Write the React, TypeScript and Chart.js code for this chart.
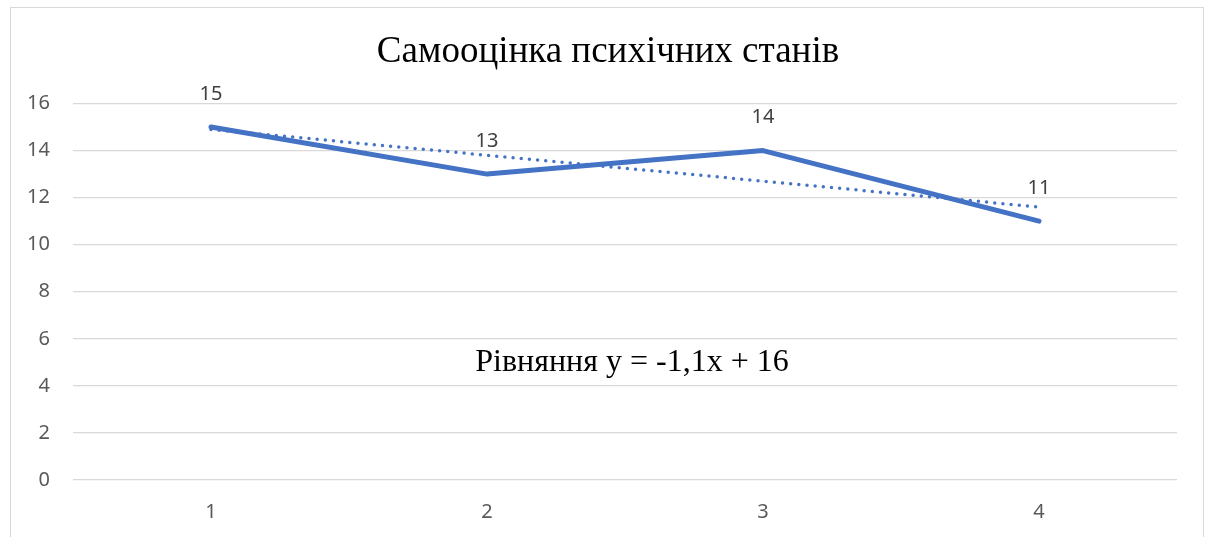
import React, { useEffect, useRef } from "react";
import { Chart, registerables } from "chart.js";

Chart.register(...registerables);

const categories = ["1", "2", "3", "4"];
const seriesValues = [15, 13, 14, 11];
const trendValues = [14.9, 13.8, 12.7, 11.6];
const yTicks = [0, 2, 4, 6, 8, 10, 12, 14, 16];
const titleText = "Самооцінка психічних станів";
const equationText = "Рівняння y = -1,1x + 16";

const W = 1205;
const H = 537;
const SANS = "'Noto Sans', 'Open Sans', sans-serif";
const SERIF = "'Liberation Serif', 'DejaVu Serif', serif";

const overlayPlugin = {
  id: "overlay",
  beforeDraw(chart: any) {
    const ctx = chart.ctx;
    ctx.save();
    ctx.fillStyle = "#ffffff";
    ctx.fillRect(0, 0, W, H);
    ctx.strokeStyle = "#d9d9d9";
    ctx.lineWidth = 1;
    ctx.strokeRect(10.5, 7.5, 1193, 700);
    ctx.restore();
  },
  afterDraw(chart: any) {
    const ctx = chart.ctx;
    ctx.save();
    ctx.fillStyle = "#000000";
    ctx.textAlign = "center";
    ctx.textBaseline = "middle";
    ctx.font = `37px ${SERIF}`;
    ctx.fillText(titleText, 608, 52);
    ctx.font = `32px ${SERIF}`;
    ctx.fillText(equationText, 632, 363);
    const meta = chart.getDatasetMeta(1);
    ctx.font = `20px ${SANS}`;
    ctx.fillStyle = "#404040";
    meta.data.forEach((pt: any, i: number) => {
      ctx.fillText(String(seriesValues[i]), pt.x, pt.y - 33);
    });
    ctx.restore();
  },
};

export default function App() {
  const ref = useRef<HTMLCanvasElement | null>(null);
  useEffect(() => {
    if (!ref.current) return;
    const chart = new Chart(ref.current, {
      type: "line",
      data: {
        labels: categories,
        datasets: [
          {
            label: "Trend",
            data: trendValues,
            borderColor: "#4472C4",
            borderWidth: 3.5,
            borderDash: [0, 8.2],
            borderCapStyle: "round",
            pointRadius: 0,
            fill: false,
            tension: 0,
          },
          {
            label: "Series",
            data: seriesValues,
            borderColor: "#4472C4",
            borderWidth: 5,
            borderCapStyle: "round",
            borderJoinStyle: "round",
            pointRadius: 0,
            fill: false,
            tension: 0,
          },
        ],
      },
      options: {
        responsive: false,
        animation: false,
        devicePixelRatio: 1,
        layout: { padding: { left: 0, right: 28, top: 103.5, bottom: 0 } },
        plugins: {
          legend: { display: false },
          title: { display: false },
          tooltip: { enabled: false },
        },
        scales: {
          x: {
            offset: true,
            grid: { display: false, drawTicks: false },
            border: { display: false },
            ticks: {
              font: { size: 20, family: SANS },
              color: "#595959",
              padding: 20,
            },
            afterFit(scale: any) {
              scale.height = H - 480;
            },
          },
          y: {
            min: 0,
            max: 16,
            afterBuildTicks(scale: any) {
              scale.ticks = yTicks.map((v) => ({ value: v }));
            },
            grid: { color: "#d9d9d9", lineWidth: 1.3, drawTicks: false },
            border: { display: false },
            ticks: {
              font: { size: 20, family: SANS },
              color: "#595959",
              padding: 23,
            },
            afterFit(scale: any) {
              scale.width = 73;
            },
          },
        },
      },
      plugins: [overlayPlugin],
    } as any);
    return () => chart.destroy();
  }, []);
  return (
    <div style={{ position: "absolute", left: 0, top: 0, width: W, height: H }}>
      <canvas ref={ref} width={W} height={H} style={{ width: W, height: H, display: "block" }} />
    </div>
  );
}
